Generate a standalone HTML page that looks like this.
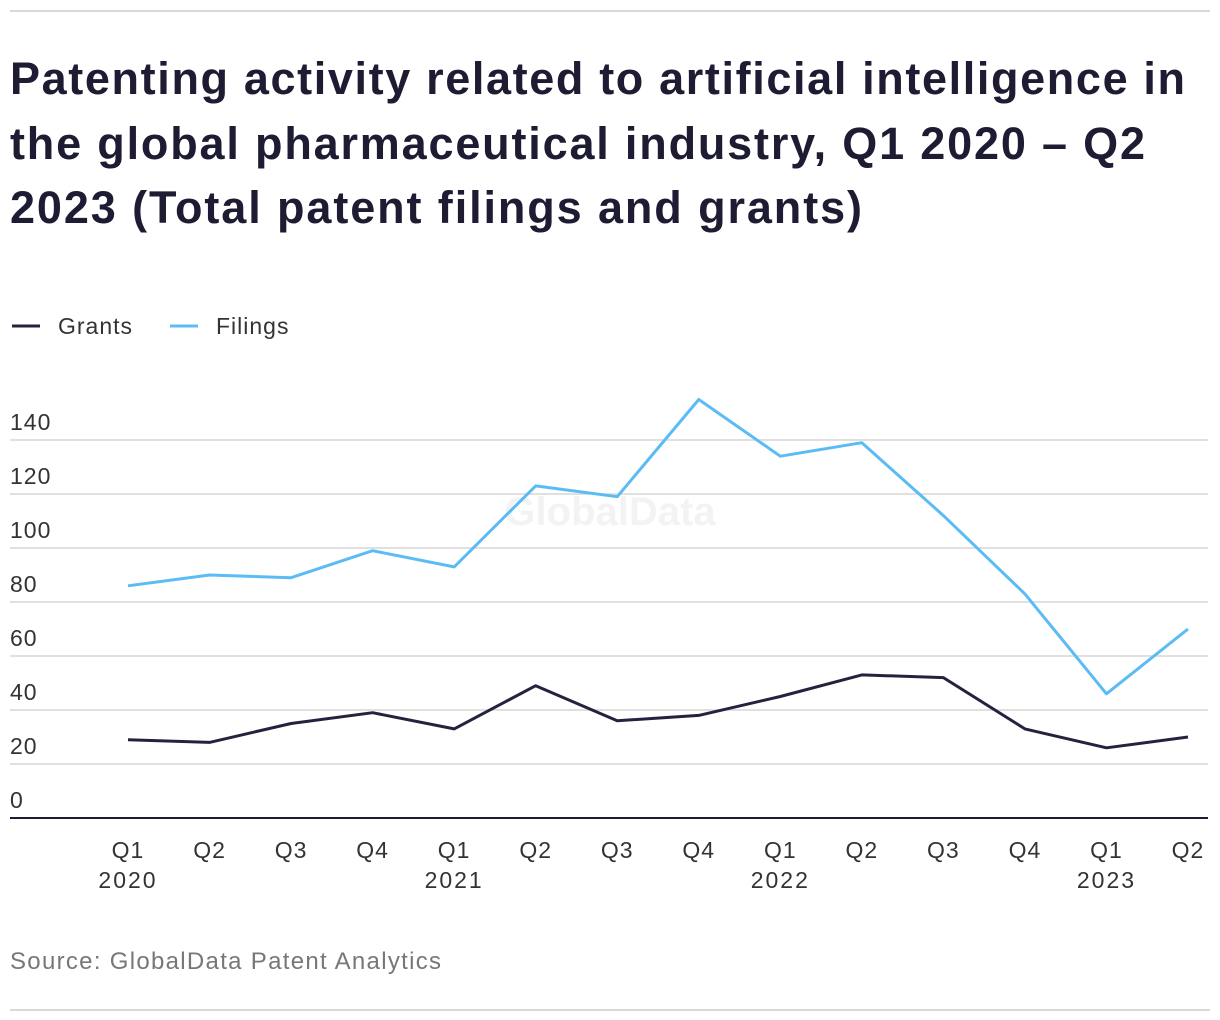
<!DOCTYPE html>
<html><head><meta charset="utf-8"><style>
body{margin:0;width:1220px;height:1020px;background:#fff;font-family:"Liberation Sans",sans-serif;overflow:hidden}
</style></head><body>
<svg width="1220" height="1020" style="position:absolute;left:0;top:0">
<line x1="10" y1="11" x2="1210" y2="11" stroke="#d9d9d9" stroke-width="2"/>
<g font-weight="bold" font-size="45" fill="#1d1c33">
<text x="10" y="94" textLength="1175" lengthAdjust="spacing">Patenting activity related to artificial intelligence in</text>
<text x="10" y="159" textLength="1135" lengthAdjust="spacing">the global pharmaceutical industry, Q1 2020 – Q2</text>
<text x="10" y="223" textLength="852" lengthAdjust="spacing">2023 (Total patent filings and grants)</text>
</g>
<g font-size="23" fill="#333" letter-spacing="1">
<g><line x1="12" y1="326" x2="40" y2="326" stroke="#24233f" stroke-width="3"/><text x="58" y="334">Grants</text></g>
<g><line x1="170" y1="326" x2="198" y2="326" stroke="#5bbcf5" stroke-width="3"/><text x="216" y="334">Filings</text></g>
</g>
<text x="610" y="525" text-anchor="middle" font-size="40" font-weight="bold" fill="#f3f3f3">GlobalData</text>
<g id="grid"></g><g id="xaxis"></g><g id="lines"></g>
<text x="10" y="969" font-size="24" fill="#777" textLength="431" lengthAdjust="spacing">Source: GlobalData Patent Analytics</text>
<line x1="10" y1="1010" x2="1210" y2="1010" stroke="#d9d9d9" stroke-width="2"/>
</svg>
<script>
const categories=["Q1","Q2","Q3","Q4","Q1","Q2","Q3","Q4","Q1","Q2","Q3","Q4","Q1","Q2"];
const years=["2020","","","","2021","","","","2022","","","","2023",""];
const grants=[29,28,35,39,33,49,36,38,45,53,52,33,26,30];
const filings=[86,90,89,99,93,123,119,155,134,139,112,83,46,70];
const yTicks=[0,20,40,60,80,100,120,140];
const NS="http://www.w3.org/2000/svg";
const x=i=>128+i*(1188-128)/(categories.length-1);
const y=v=>818-v*2.7;
function mk(tag,attrs,parent){const e=document.createElementNS(NS,tag);for(const k in attrs)e.setAttribute(k,attrs[k]);parent.appendChild(e);return e;}
const grid=document.getElementById('grid');
yTicks.forEach(t=>{
 const l=mk('line',{x1:10,x2:1208,y1:y(t),y2:y(t),stroke:t===0?'#1d1c33':'#d6d6d6','stroke-width':t===0?2:1.5},grid);
 
 
 const tx=mk('text',{x:10,y:y(t)-10,'font-size':23,fill:'#333','letter-spacing':1},grid);tx.textContent=t;
 
 
});
const xa=document.getElementById('xaxis');
categories.forEach((c,i)=>{
 const t=mk('text',{x:x(i),y:858,'font-size':23,fill:'#333','text-anchor':'middle','letter-spacing':1},xa);t.textContent=c;
 
 
 if(years[i]){const t2=mk('text',{x:x(i),y:888,'font-size':23,fill:'#333','text-anchor':'middle','letter-spacing':2},xa);t2.textContent=years[i];
 
 }
});
const lg=document.getElementById('lines');
[[filings,'#5bbcf5','filings-line'],[grants,'#24233f','grants-line']].forEach(([d,c,n])=>{
 const p=mk('polyline',{points:d.map((v,i)=>x(i)+','+y(v)).join(' '),fill:'none',stroke:c,'stroke-width':3,'stroke-linejoin':'round'},lg);
 
 
});
</script>
</body></html>
